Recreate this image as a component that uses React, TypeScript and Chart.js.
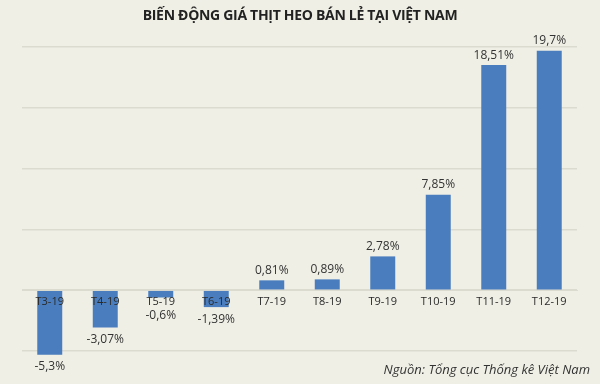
import React, { useEffect, useRef } from "react";
import { Chart, registerables } from "chart.js";

Chart.register(...registerables);

const categories = ["T3-19", "T4-19", "T5-19", "T6-19", "T7-19", "T8-19", "T9-19", "T10-19", "T11-19", "T12-19"];
const values = [-5.3, -3.07, -0.6, -1.39, 0.81, 0.89, 2.78, 7.85, 18.51, 19.7];
const valueLabels = ["-5,3%", "-3,07%", "-0,6%", "-1,39%", "0,81%", "0,89%", "2,78%", "7,85%", "18,51%", "19,7%"];
const titleText = "BIẾN ĐỘNG GIÁ THỊT HEO BÁN LẺ TẠI VIỆT NAM";
const sourceText = "Nguồn: Tổng cục Thống kê Việt Nam";

const BG = "#f0efe6";
const BAR = "#4a7dbd";
const GRID = "#dcdbd0";

const labelPlugin = {
  id: "labelsOnTop",
  afterDatasetsDraw(chart: any) {
    const ctx = chart.ctx;
    const meta = chart.getDatasetMeta(0);
    const zero = chart.scales.y.getPixelForValue(0);
    ctx.save();
    ctx.textAlign = "center";
    ctx.textBaseline = "middle";
    // category labels along the zero line, drawn over the bars
    ctx.font = "11px 'Open Sans'";
    ctx.fillStyle = "#2a2a2a";
    categories.forEach((c, i) => {
      const x = chart.scales.x.getPixelForValue(i);
      ctx.fillText(c, x, zero + 12);
    });
    // value labels
    ctx.font = "12px 'Open Sans'";
    ctx.fillStyle = "#333333";
    meta.data.forEach((bar: any, i: number) => {
      const v = values[i];
      const y = v >= 0 ? bar.y - 10 : Math.max(bar.y + 12, zero + 25);
      ctx.fillText(valueLabels[i], bar.x, y);
    });
    ctx.restore();
  },
};

export default function App() {
  const ref = useRef<HTMLCanvasElement>(null);
  useEffect(() => {
    document.body.style.margin = "0";
    const chart = new Chart(ref.current!, {
      type: "bar",
      data: {
        labels: categories,
        datasets: [
          {
            data: values,
            backgroundColor: BAR,
            barPercentage: 0.45,
            categoryPercentage: 1,
            clip: false as any,
          },
        ],
      },
      options: {
        animation: false,
        responsive: false,
        maintainAspectRatio: false,
        layout: { padding: { left: 22, right: 23, top: 47, bottom: 33 } },
        plugins: {
          legend: { display: false },
          title: { display: false },
          tooltip: { enabled: false },
        },
        scales: {
          x: {
            position: { y: 0 } as any,
            grid: { display: false, drawTicks: false },
            border: { display: true, color: GRID, width: 1 },
            ticks: { display: false },
          },
          y: {
            min: -5,
            max: 20,
            ticks: { display: false, stepSize: 5 },
            grid: { color: GRID, lineWidth: 1.5, drawTicks: false },
            border: { display: false },
          },
        },
      },
      plugins: [labelPlugin],
    });
    return () => chart.destroy();
  }, []);

  return (
    <div style={{ position: "relative", width: 600, height: 384, background: BG, overflow: "hidden" }}>
      <canvas ref={ref} width={600} height={384} style={{ position: "absolute", left: 0, top: 0 }} />
      <div
        style={{
          position: "absolute",
          left: 0,
          top: 5,
          width: 600,
          textAlign: "center",
          fontFamily: "'Open Sans'",
          fontWeight: 700,
          fontSize: 14,
          color: "#222",
          letterSpacing: -0.3,
        }}
      >
        {titleText}
      </div>
      <div
        style={{
          position: "absolute",
          right: 10,
          top: 360,
          fontFamily: "'Open Sans'",
          fontStyle: "italic",
          fontSize: 13,
          color: "#333",
          whiteSpace: "nowrap",
        }}
      >
        {sourceText}
      </div>
    </div>
  );
}
